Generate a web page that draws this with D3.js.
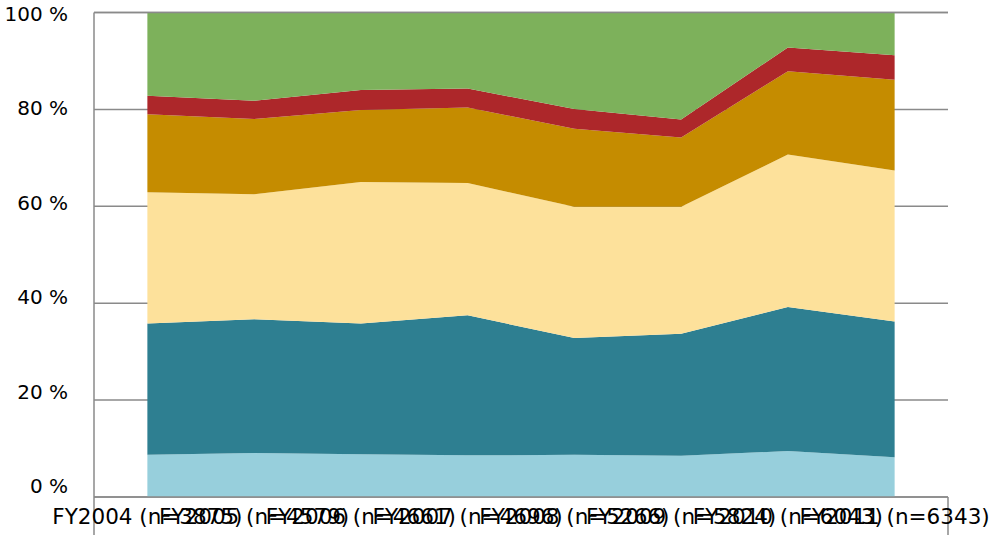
<!DOCTYPE html>
<meta charset="utf-8">
<head>
  <title>Stacked area share</title>
  <script src="https://cdn.jsdelivr.net/npm/d3@7"></script>
  <style>
    body { margin: 0; background: #fff; }
    text { font-family: "DejaVu Sans", sans-serif; fill: #000; }
  </style>
</head>
<body>
<div id="chart"></div>
<script>
// categories (x axis)
var years = ["FY2004", "FY2005", "FY2006", "FY2007", "FY2008", "FY2009", "FY2010", "FY2011"];
var counts = [3875, 4579, 4661, 4696, 5266, 5824, 6043, 6343];

// series, bottom to top (percent share)
var lightBlue = [8.7, 9.1, 8.8, 8.6, 8.7, 8.5, 9.5, 8.2];
var teal      = [27.1, 27.6, 27.0, 28.9, 24.1, 25.2, 29.7, 28.0];
var sand      = [27.1, 25.8, 29.2, 27.3, 27.1, 26.2, 31.5, 31.2];
var gold      = [16.1, 15.5, 14.9, 15.6, 16.1, 14.3, 17.2, 18.7];
var red       = [3.8, 3.8, 4.1, 3.9, 4.1, 3.7, 4.9, 5.1];
var green     = [17.2, 18.2, 16.0, 15.7, 19.9, 22.1, 7.2, 8.8];

var yTicks = [0, 20, 40, 60, 80, 100];

var keys = ["lightBlue", "teal", "sand", "gold", "red", "green"];
var colors = {
  lightBlue: "#97cfdc",
  teal: "#2e7f91",
  sand: "#fde19b",
  gold: "#c58c00",
  red: "#ad272a",
  green: "#7db15b"
};
var seriesValues = {lightBlue: lightBlue, teal: teal, sand: sand, gold: gold, red: red, green: green};

var rows = years.map(function(y, i) {
  var r = {year: y, n: counts[i]};
  keys.forEach(function(k) { r[k] = seriesValues[k][i]; });
  return r;
});

var W = 1006, H = 535;
var plot = {left: 94, right: 948, top: 12.5, bottom: 497};

var svg = d3.select("#chart").append("svg")
  .attr("width", W).attr("height", H);

var x = d3.scalePoint().domain(years).range([plot.left, plot.right]).padding(0.5);
var y = d3.scaleLinear().domain([0, 1]).range([plot.bottom, plot.top]);
// tick labels sit a little off the grid lines in the original
var yLabel = d3.scaleLinear().domain([0, 100]).range([486, 14]);

// grid lines
svg.append("g")
  .selectAll("line")
  .data(yTicks)
  .enter().append("line")
  .attr("x1", plot.left).attr("x2", plot.right)
  .attr("y1", function(d) { return y(d / 100); })
  .attr("y2", function(d) { return y(d / 100); })
  .attr("stroke", "#8a8a8a")
  .attr("stroke-width", 1.5);

var stack = d3.stack().keys(keys).offset(d3.stackOffsetExpand);
var layers = stack(rows);

var area = d3.area()
  .x(function(d) { return x(d.data.year); })
  .y0(function(d) { return y(d[0]); })
  .y1(function(d) { return y(d[1]); });

svg.append("g")
  .selectAll("path")
  .data(layers)
  .enter().append("path")
  .attr("d", area)
  .attr("fill", function(d) { return colors[d.key]; });

// axis lines
var axisColor = "#8a8a8a";
svg.append("line")
  .attr("x1", plot.left).attr("x2", plot.left).attr("y1", plot.top).attr("y2", H)
  .attr("stroke", axisColor).attr("stroke-width", 1.5);
svg.append("line")
  .attr("x1", plot.right).attr("x2", plot.right).attr("y1", plot.bottom).attr("y2", H)
  .attr("stroke", axisColor).attr("stroke-width", 1.5);
svg.append("line")
  .attr("x1", plot.left).attr("x2", plot.right).attr("y1", plot.bottom).attr("y2", plot.bottom)
  .attr("stroke", axisColor).attr("stroke-width", 1.5);
svg.append("line")
  .attr("x1", plot.left).attr("x2", plot.right).attr("y1", plot.top).attr("y2", plot.top)
  .attr("stroke", axisColor).attr("stroke-width", 1.5);

// y labels
svg.append("g")
  .selectAll("text")
  .data(yTicks)
  .enter().append("text")
  .attr("x", 68)
  .attr("y", function(d) { return yLabel(d); })
  .attr("dy", "0.35em")
  .attr("text-anchor", "end")
  .style("font-size", "20px")
  .text(function(d) { return d + " %"; });

// x labels (they overlap, as in the original)
svg.append("g")
  .selectAll("text")
  .data(rows)
  .enter().append("text")
  .attr("x", function(d) { return x(d.year); })
  .attr("y", 524)
  .attr("text-anchor", "middle")
  .style("font-size", "21.5px")
  .text(function(d) { return d.year + " (n=" + d.n + ")"; });
</script>
</body>
</html>
